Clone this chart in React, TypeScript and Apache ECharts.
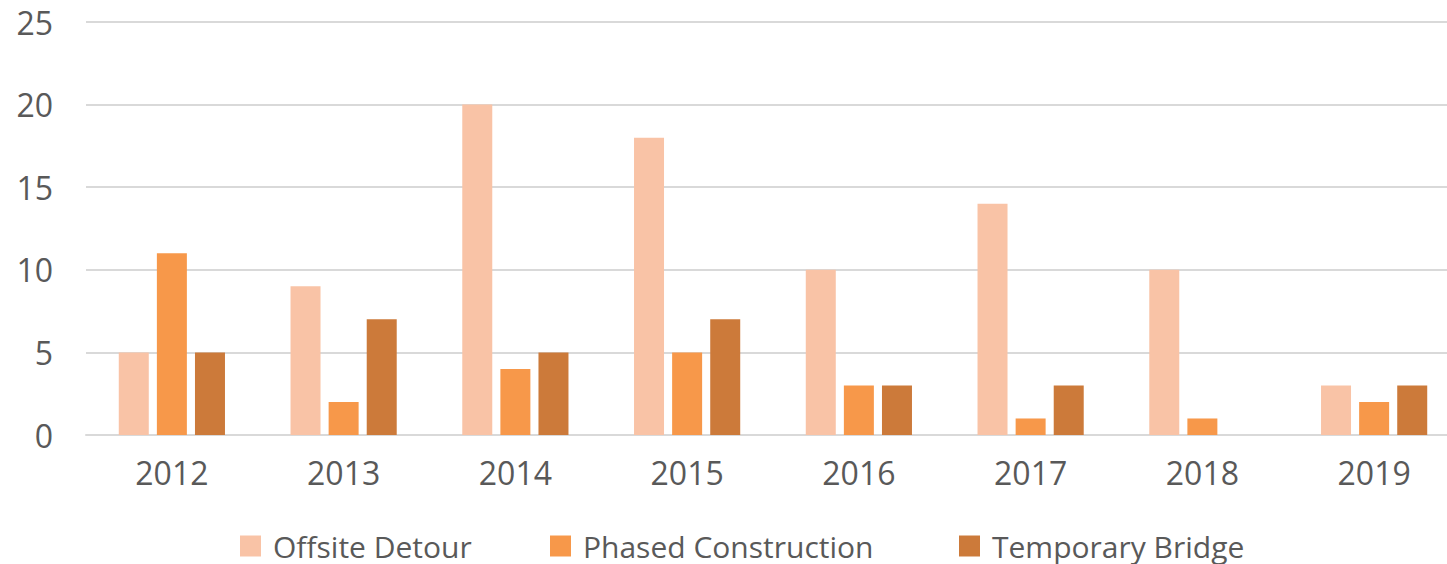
import React, { useEffect, useRef } from "react";
import * as echarts from "echarts";

const categories = ["2012", "2013", "2014", "2015", "2016", "2017", "2018", "2019"];
const offsiteDetour = [5, 9, 20, 18, 10, 14, 10, 3];
const phasedConstruction = [11, 2, 4, 5, 3, 1, 1, 2];
const temporaryBridge = [5, 7, 5, 7, 3, 3, 0, 3];
const seriesNames = ["Offsite Detour", "Phased Construction", "Temporary Bridge"];
const colors = ["#F9C3A6", "#F7984A", "#CC7A3A"];

export default function App() {
  const ref = useRef<HTMLDivElement>(null);
  useEffect(() => {
    if (!ref.current) return;
    const chart = echarts.init(ref.current, null, { renderer: "svg" });
    const font = "'Open Sans', sans-serif";
    const legendLefts = [240, 550, 959];
    const data = [offsiteDetour, phasedConstruction, temporaryBridge];
    chart.setOption({
      animation: false,
      backgroundColor: "#ffffff",
      grid: {
        left: 86,
        right: -13,
        top: 22,
        bottom: 129,
        containLabel: false,
        outerBoundsMode: "none",
      },
      legend: seriesNames.map((n, i) => ({
        data: [n],
        left: legendLefts[i],
        top: 531,
        itemWidth: 21,
        itemHeight: 21,
        itemGap: 0,
        icon: "rect",
        textStyle: {
          fontFamily: font,
          fontSize: 30,
          color: "#595959",
          padding: [0, 0, 0, 7],
        },
        padding: 0,
      })),
      xAxis: {
        type: "category",
        data: categories,
        axisTick: { show: false },
        axisLine: { lineStyle: { color: "#D9D9D9", width: 2 } },
        axisLabel: { fontFamily: font, fontSize: 32, color: "#595959", margin: 21 },
      },
      yAxis: {
        type: "value",
        min: 0,
        max: 25,
        interval: 5,
        axisLine: { show: false },
        axisTick: { show: false },
        splitLine: { lineStyle: { color: "#D9D9D9", width: 2 } },
        axisLabel: { fontFamily: font, fontSize: 32, color: "#595959", margin: 33 },
      },
      series: seriesNames.map((n, i) => ({
        name: n,
        type: "bar",
        data: data[i],
        barWidth: 30,
        barGap: "27%",
        itemStyle: { color: colors[i] },
      })),
    });
    return () => chart.dispose();
  }, []);
  return (
    <div
      ref={ref}
      style={{ position: "fixed", left: 0, top: 0, width: 1447, height: 564 }}
    />
  );
}
